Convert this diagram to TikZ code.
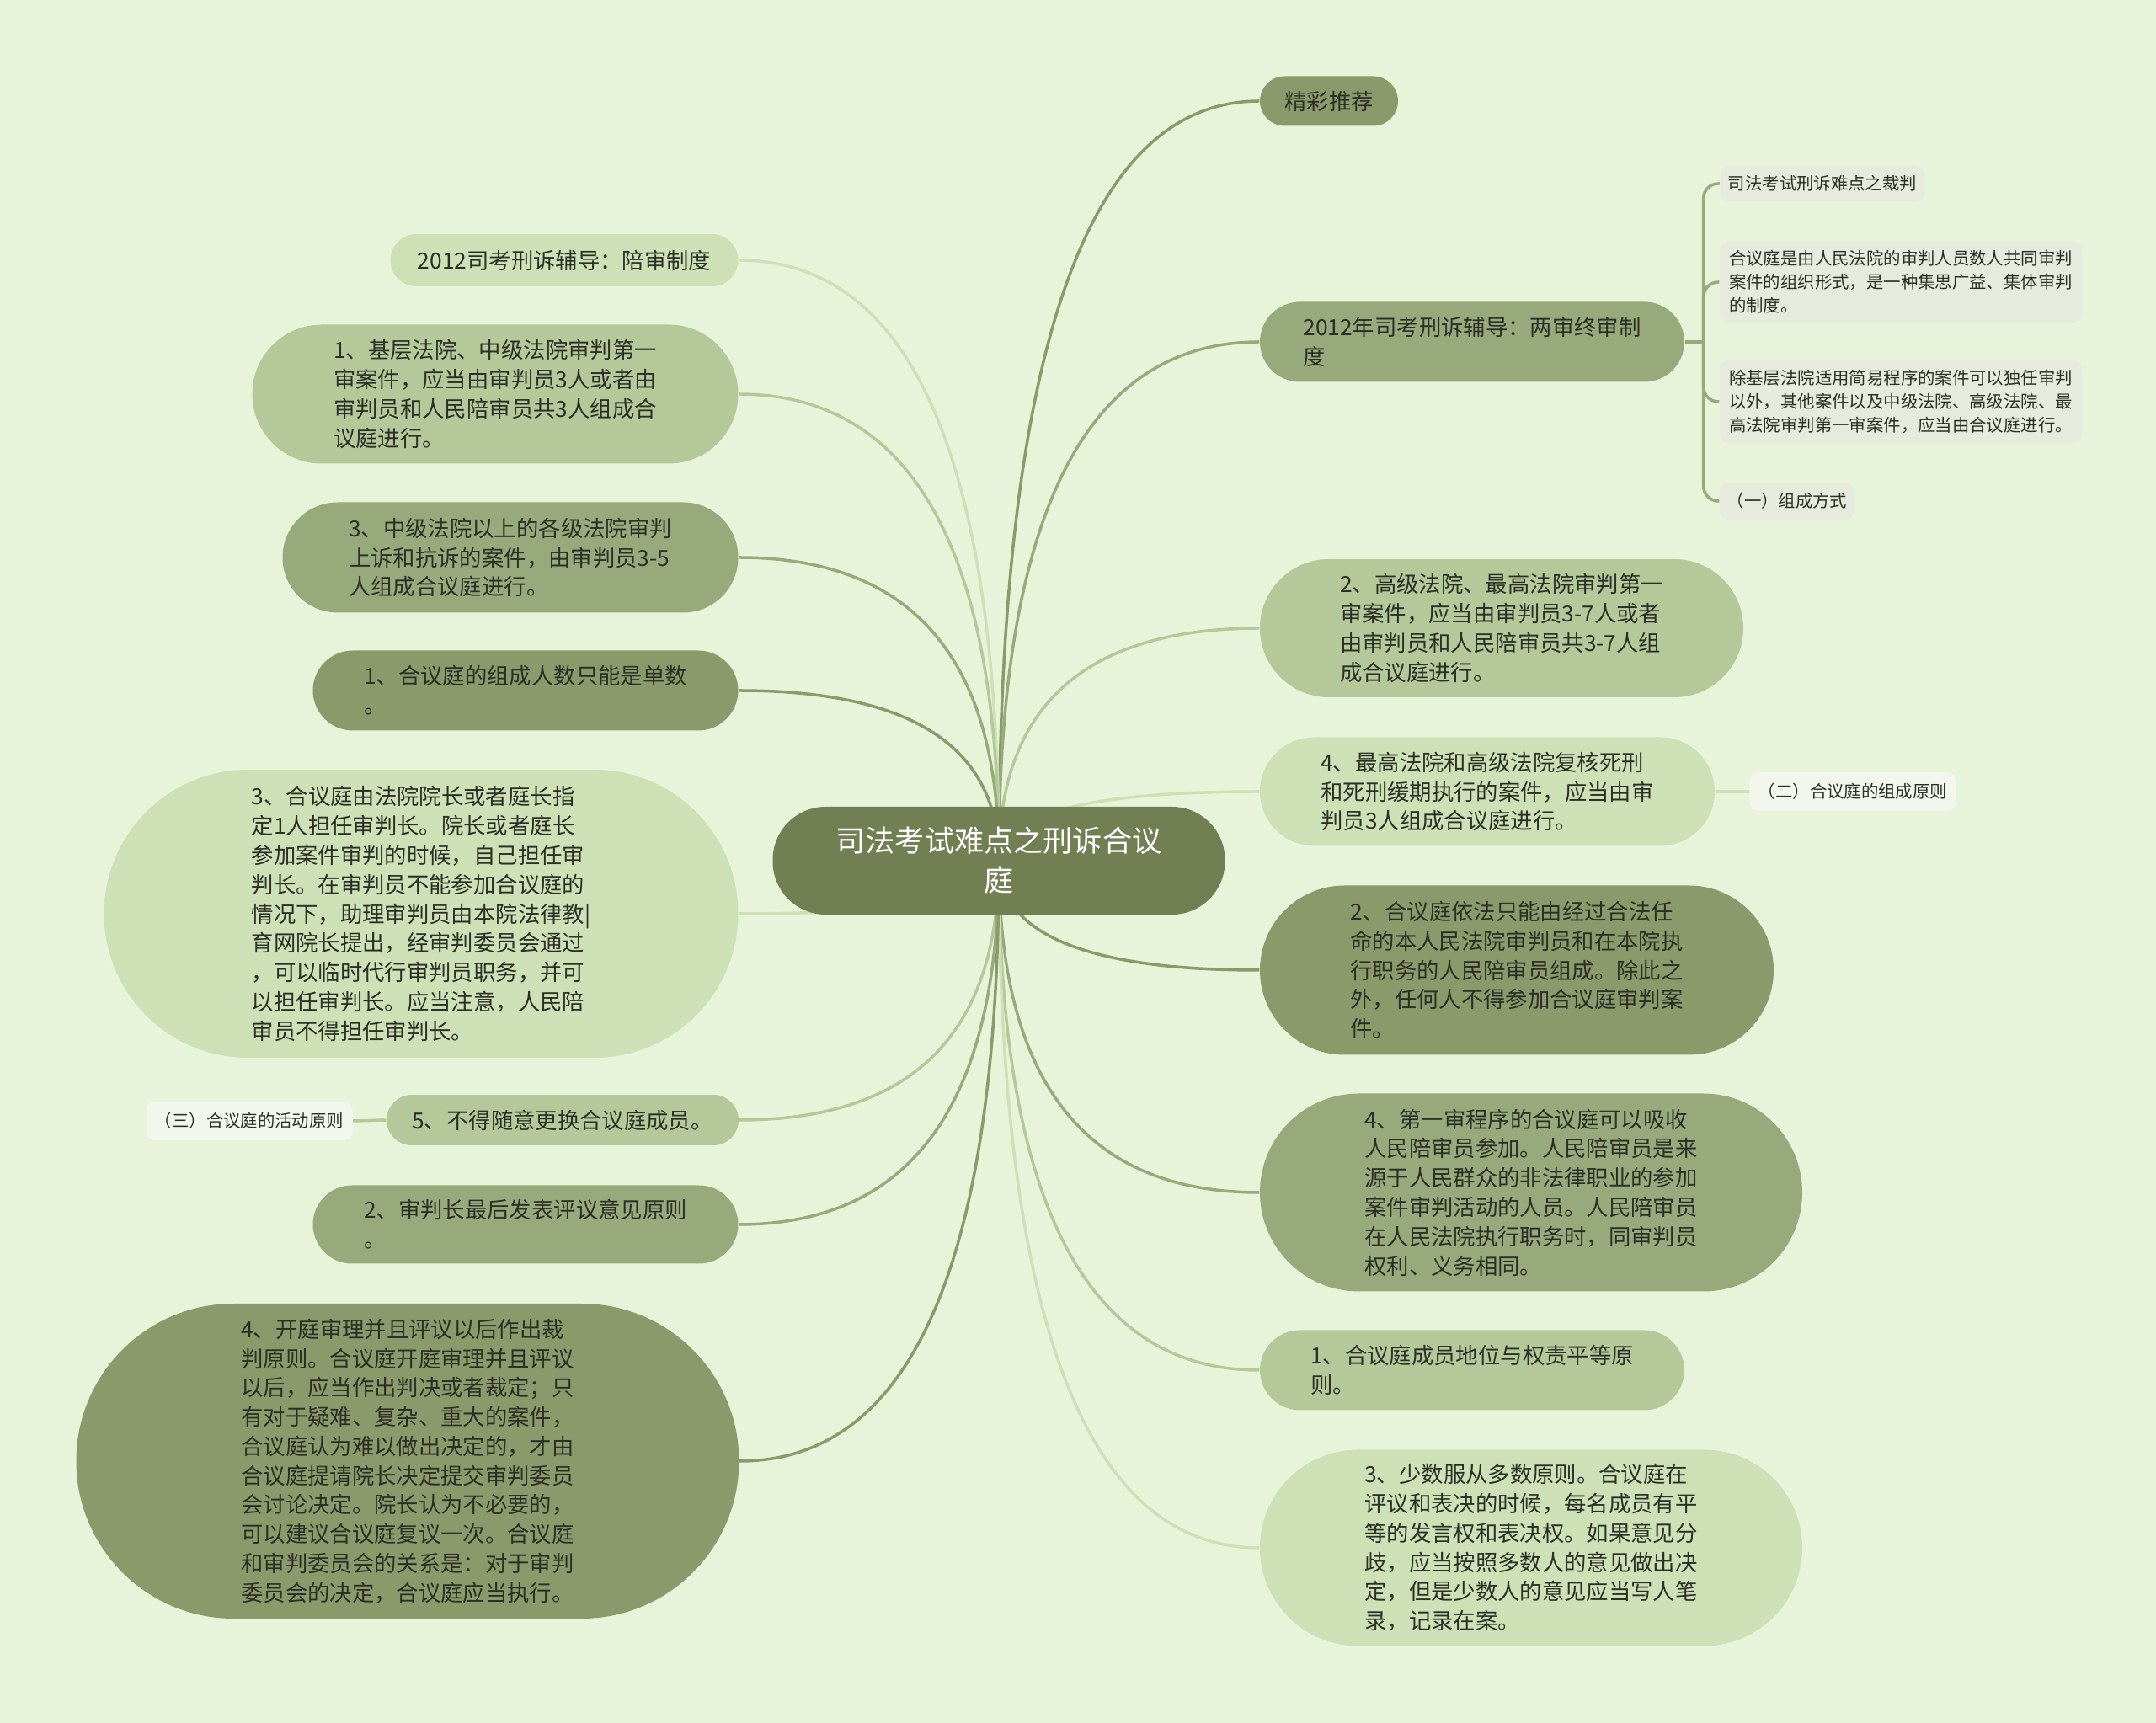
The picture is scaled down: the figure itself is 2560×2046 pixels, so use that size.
\documentclass[tikz,border=0pt]{standalone}
\usepackage{fontspec}
\setmainfont{Noto Sans CJK SC}
\usetikzlibrary{shapes.misc,calc}

\definecolor{bgc}{HTML}{E8F4DA}
\definecolor{rootc}{HTML}{717F52}
\definecolor{darkc}{HTML}{8A9A6A}
\definecolor{midc}{HTML}{98A97B}
\definecolor{litc}{HTML}{B5C89A}
\definecolor{palec}{HTML}{CDE0B6}
\definecolor{grayc}{HTML}{E6EBDE}
\definecolor{whitec}{HTML}{F2F6EC}
\definecolor{txtc}{HTML}{2B2F25}

\pgfdeclarelayer{bg}
\pgfsetlayers{bg,main}

\tikzset{
  topic/.style={rounded rectangle, inner sep=0pt, align=left, text=txtc,
    font=\fontsize{7.5}{9.9}\selectfont},
  leaf/.style={rectangle, rounded corners=3pt, inner sep=0pt, align=left, text=txtc,
    font=\fontsize{5.8}{8}\selectfont},
  branch/.style={line width=0.35mm},
}

\begin{document}
\begin{tikzpicture}[x=0.1mm, y=-0.1mm]
  \useasboundingbox (0,0) rectangle (2560,2046);

  % centre
  \node[rectangle, rounded corners=6.3mm, fill=rootc, text=white, align=center, minimum width=53.7mm, minimum height=12.8mm,
    font=\fontsize{10}{13.4}\selectfont] (root) at (1186,1022) {司法考试难点之刑诉合议\\庭};

  % right side
  \node[topic, fill=darkc, minimum width=16.4mm, minimum height=5.9mm] (r1) at (1578,120) {精彩推荐};
  \node[topic, fill=midc, minimum width=50.4mm, minimum height=9.5mm] (r2) at (1748,406) {2012年司考刑诉辅导：两审终审制\\度};
  \node[topic, fill=litc, minimum width=57.4mm, minimum height=16.4mm] (r3) at (1783,746)
    {2、高级法院、最高法院审判第一\\审案件，应当由审判员3-7人或者\\由审判员和人民陪审员共3-7人组\\成合议庭进行。};
  \node[topic, fill=palec, minimum width=54mm, minimum height=12.9mm] (r4) at (1766,940)
    {4、最高法院和高级法院复核死刑\\和死刑缓期执行的案件，应当由审\\判员3人组成合议庭进行。};
  \node[topic, fill=darkc, minimum width=61mm, minimum height=20.1mm] (r5) at (1801,1152)
    {2、合议庭依法只能由经过合法任\\命的本人民法院审判员和在本院执\\行职务的人民陪审员组成。除此之\\外，任何人不得参加合议庭审判案\\件。};
  \node[topic, fill=midc, minimum width=64.4mm, minimum height=23.5mm] (r6) at (1818,1416)
    {4、第一审程序的合议庭可以吸收\\人民陪审员参加。人民陪审员是来\\源于人民群众的非法律职业的参加\\案件审判活动的人员。人民陪审员\\在人民法院执行职务时，同审判员\\权利、义务相同。};
  \node[topic, fill=litc, minimum width=50.4mm, minimum height=9.5mm] (r7) at (1748,1627)
    {1、合议庭成员地位与权责平等原\\则。};
  \node[topic, fill=palec, minimum width=64.4mm, minimum height=23.3mm] (r8) at (1818,1838)
    {3、少数服从多数原则。合议庭在\\评议和表决的时候，每名成员有平\\等的发言权和表决权。如果意见分\\歧，应当按照多数人的意见做出决\\定，但是少数人的意见应当写人笔\\录，记录在案。};

  % left side
  \node[topic, fill=palec, minimum width=41.3mm, minimum height=6.2mm] (l1) at (670,309) {2012司考刑诉辅导：陪审制度};
  \node[topic, fill=litc, minimum width=57.7mm, minimum height=16.5mm] (l2) at (588,468)
    {1、基层法院、中级法院审判第一\\审案件，应当由审判员3人或者由\\审判员和人民陪审员共3人组成合\\议庭进行。};
  \node[topic, fill=midc, minimum width=54.1mm, minimum height=13.1mm] (l3) at (606,662)
    {3、中级法院以上的各级法院审判\\上诉和抗诉的案件，由审判员3-5\\人组成合议庭进行。};
  \node[topic, fill=darkc, minimum width=50.5mm, minimum height=9.5mm] (l4) at (624,820)
    {1、合议庭的组成人数只能是单数\\。};
  \node[topic, fill=palec, minimum width=75.3mm, minimum height=34.2mm] (l5) at (500,1085)
    {3、合议庭由法院院长或者庭长指\\定1人担任审判长。院长或者庭长\\参加案件审判的时候，自己担任审\\判长。在审判员不能参加合议庭的\\情况下，助理审判员由本院法律教|\\育网院长提出，经审判委员会通过\\，可以临时代行审判员职务，并可\\以担任审判长。应当注意，人民陪\\审员不得担任审判长。};
  \node[topic, fill=litc, minimum width=41.8mm, minimum height=6mm] (l6) at (668,1330) {5、不得随意更换合议庭成员。};
  \node[topic, fill=midc, minimum width=50.5mm, minimum height=9.3mm] (l7) at (624,1454)
    {2、审判长最后发表评议意见原则\\。};
  \node[topic, fill=darkc, minimum width=78.7mm, minimum height=37.4mm] (l8) at (484,1735)
    {4、开庭审理并且评议以后作出裁\\判原则。合议庭开庭审理并且评议\\以后，应当作出判决或者裁定；只\\有对于疑难、复杂、重大的案件，\\合议庭认为难以做出决定的，才由\\合议庭提请院长决定提交审判委员\\会讨论决定。院长认为不必要的，\\可以建议合议庭复议一次。合议庭\\和审判委员会的关系是：对于审判\\委员会的决定，合议庭应当执行。};

  % small leaves
  \node[leaf, fill=grayc, minimum width=24.3mm, minimum height=4.3mm] (s1) at (2164,218) {司法考试刑诉难点之裁判};
  \node[leaf, fill=grayc, minimum width=43mm, minimum height=9.6mm] (s2) at (2257,335)
    {合议庭是由人民法院的审判人员数人共同审判\\案件的组织形式，是一种集思广益、集体审判\\的制度。};
  \node[leaf, fill=grayc, minimum width=43mm, minimum height=9.9mm] (s3) at (2257,477)
    {除基层法院适用简易程序的案件可以独任审判\\以外，其他案件以及中级法院、高级法院、最\\高法院审判第一审案件，应当由合议庭进行。};
  \node[leaf, fill=grayc, minimum width=16mm, minimum height=4.4mm] (s4) at (2122,595) {（一）组成方式};
  \node[leaf, fill=whitec, minimum width=24.5mm, minimum height=4.6mm] (s5) at (2200,940) {（二）合议庭的组成原则};
  \node[leaf, fill=whitec, minimum width=24.5mm, minimum height=4.6mm] (s6) at (296,1331) {（三）合议庭的活动原则};

  \begin{pgfonlayer}{bg}
    \fill[bgc] (0,0) rectangle (2560,2046);
    \foreach \p/\c in {r1.west/darkc, r2.west/midc, r3.west/litc, r4.west/palec,
                       r5.west/darkc, r6.west/midc, r7.west/litc, r8.west/palec,
                       l1.east/palec, l2.east/litc, l3.east/midc, l4.east/darkc,
                       l5.east/palec, l6.east/litc, l7.east/midc, l8.east/darkc}
      \draw[branch, \c] (root.center) .. controls ($(root.center)!.667!(root.center |- \p)$)
        and ($(\p)!.667!(root.center |- \p)$) .. (\p);

    \coordinate (r2j) at ($(r2.east)+(22,0)$);
    \draw[branch, midc] (r2.east) -- (r2j);
    \foreach \s in {s1,s2,s3,s4}
      \draw[branch, midc, rounded corners=5pt] (r2j) |- (\s.west);
    \draw[branch, palec] (r4.east) -- (s5.west);
    \draw[branch, litc] (s6.east) -- (l6.west);
  \end{pgfonlayer}
\end{tikzpicture}
\end{document}
